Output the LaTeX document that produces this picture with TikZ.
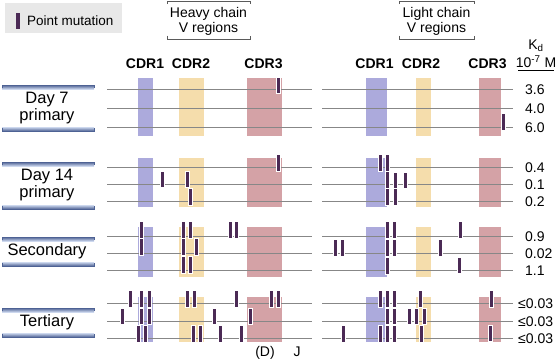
\documentclass[tikz,border=0pt]{standalone}
\usepackage{fontspec}
\setmainfont{Liberation Sans}
\definecolor{cdrA}{RGB}{172,170,220}
\definecolor{cdrB}{RGB}{245,221,172}
\definecolor{cdrC}{RGB}{212,162,166}
\definecolor{mut}{RGB}{75,42,85}
\definecolor{gline}{RGB}{135,135,135}
\definecolor{legbg}{RGB}{232,232,232}
\definecolor{bardark}{RGB}{78,98,148}
\definecolor{barlight}{RGB}{205,216,238}
\definecolor{brk}{RGB}{90,90,90}
\newcommand\mutbar[3]{\filldraw[mutstyle] ({#1-2.2},#2) rectangle ({#1+2.2},#3);}
\begin{document}
\begin{tikzpicture}[x=1pt,y=-1pt,
  mutstyle/.style={fill=mut,draw=white,line width=0.5pt},
  rowline/.style={draw=gline,line width=0.7pt},
  lbl/.style={font=\fontsize{16.5}{17}\selectfont,inner sep=0pt,align=center},
  hdr/.style={font=\fontsize{14}{15}\selectfont,inner sep=0pt,anchor=base},
  cdrlbl/.style={font=\fontsize{14}{15}\selectfont\bfseries,inner sep=0pt,anchor=base},
  kd/.style={font=\fontsize{14}{15}\selectfont,inner sep=0pt,anchor=base west},
  brack/.style={draw=brk,line width=0.8pt}]
\useasboundingbox (0,0) rectangle (556,359);
% legend
\fill[legbg] (5,3) rectangle (122,33);
\fill[mut] (16,13) rectangle (19.5,29);
\node[font=\fontsize{13.5}{14}\selectfont,inner sep=0pt,anchor=base west] (leg) at (27,25) {Point mutation};
% headers
\draw[brack] (167,4) -- (167,1) -- (250,1) -- (250,4);
\draw[brack] (167,35.5) -- (167,39) -- (250,39) -- (250,35.5);
\node[hdr] (hc1) at (208.5,17) {Heavy chain};
\node[hdr] (hc2) at (208.5,32) {V regions};
\draw[brack] (399,4) -- (399,1) -- (474,1) -- (474,4);
\draw[brack] (399,35.5) -- (399,39) -- (474,39) -- (474,35.5);
\node[hdr] (lc1) at (436.5,17) {Light chain};
\node[hdr] (lc2) at (436.5,32) {V regions};
\node[cdrlbl] (h1) at (145,68) {CDR1};
\node[cdrlbl] (h2) at (191,68) {CDR2};
\node[cdrlbl] (h3) at (263.5,68) {CDR3};
\node[cdrlbl] (l1) at (374.5,68) {CDR1};
\node[cdrlbl] (l2) at (421,68) {CDR2};
\node[cdrlbl] (l3) at (487.5,68) {CDR3};
\node[hdr] (kdh) at (536,49) {K\textsubscript{d}};
\node[hdr] (kdu) at (536,67.5) {10\textsuperscript{-7} M};
\draw[black,line width=0.6pt] (518,70.5) -- (554,70.5);
% CDR boxes
\foreach \ya/\yb in {78/136,158/207,227/277,297/342} {
  \fill[cdrA] (138,\ya) rectangle (153,\yb);
  \fill[cdrB] (179,\ya) rectangle (204,\yb);
  \fill[cdrC] (247,\ya) rectangle (282,\yb);
  \fill[cdrA] (366,\ya) rectangle (387,\yb);
  \fill[cdrB] (416,\ya) rectangle (431,\yb);
  \fill[cdrC] (479,\ya) rectangle (501,\yb);
}
% row lines
\foreach \y in {89,108,127,167,184,201,236,253,270,303,321,338} {
  \draw[rowline] (107,\y) -- (312,\y);
  \draw[rowline] (322,\y) -- (513,\y);
}
% row labels
\foreach \yt/\yb in {85/131,162/209,237/266,308/337} {
  \shade[top color=bardark,bottom color=barlight] (2,\yt) rectangle (94,\yt+4);
  \draw[bardark,line width=0.8pt] (2,\yt+3) -- (2,\yt) -- (94,\yt) -- (94,\yt+3);
  \shade[top color=barlight,bottom color=bardark] (2,\yb-4) rectangle (94,\yb);
  \draw[bardark,line width=0.8pt] (2,\yb-3) -- (2,\yb) -- (94,\yb) -- (94,\yb-3);
}
\node[lbl] (r1) at (47,108) {Day 7\\primary};
\node[lbl] (r2) at (47,185.5) {Day 14\\primary};
\node[lbl] (r3) at (47,251.5) {Secondary};
\node[lbl] (r4) at (47,322.5) {Tertiary};
% Kd values
\node[kd] (k1) at (525,94) {3.6};
\node[kd] (k2) at (525,113) {4.0};
\node[kd] (k3) at (525,132) {6.0};
\node[kd] (k4) at (525,172) {0.4};
\node[kd] (k5) at (525,189) {0.1};
\node[kd] (k6) at (525,206) {0.2};
\node[kd] (k7) at (525,241) {0.9};
\node[kd] (k8) at (525,258) {0.02};
\node[kd] (k9) at (525,275) {1.1};
\node[kd] (k10) at (518,308) {≤0.03};
\node[kd] (k11) at (518,326) {≤0.03};
\node[kd] (k12) at (518,343) {≤0.03};
\node[hdr] (dd) at (265,356) {(D)};
\node[hdr] (jj) at (297,356) {J};
% mutations: day 7
\mutbar{278.5}{77}{93}
\mutbar{503}{113}{130}
% day 14
\mutbar{162.5}{171}{187}
\mutbar{187}{171}{187}
\mutbar{190}{188}{205}
\mutbar{278.5}{154}{171}
\mutbar{380}{154}{171}
\mutbar{387.5}{154}{171}
\mutbar{387.5}{171}{188}
\mutbar{387.5}{188}{205}
\mutbar{395}{172}{188}
\mutbar{395}{188}{205}
\mutbar{405}{172}{188}
% secondary
\mutbar{141}{221}{238}
\mutbar{141}{238}{255}
\mutbar{183.5}{221}{238}
\mutbar{183.5}{238}{255}
\mutbar{183.5}{256}{273}
\mutbar{190}{221}{238}
\mutbar{190}{256}{273}
\mutbar{196.5}{238}{255}
\mutbar{230}{221}{238}
\mutbar{236.5}{221}{238}
\mutbar{335.5}{239}{256}
\mutbar{342.5}{239}{256}
\mutbar{387}{221}{238}
\mutbar{387}{239}{256}
\mutbar{387}{257}{274}
\mutbar{394}{221}{238}
\mutbar{394}{239}{256}
\mutbar{440}{239}{256}
\mutbar{460}{221}{238}
\mutbar{459}{257}{273}
% tertiary
\mutbar{130.5}{290}{307}
\mutbar{122.5}{308}{324}
\mutbar{141.5}{290}{307}
\mutbar{141.5}{308}{324}
\mutbar{149}{290}{307}
\mutbar{149}{308}{324}
\mutbar{138}{325}{342}
\mutbar{145}{325}{342}
\mutbar{187.5}{290}{307}
\mutbar{194.5}{290}{307}
\mutbar{193.5}{325}{342}
\mutbar{200}{325}{342}
\mutbar{214}{308}{324}
\mutbar{220}{325}{342}
\mutbar{236.5}{290}{307}
\mutbar{241}{325}{342}
\mutbar{250}{308}{324}
\mutbar{271.5}{290}{307}
\mutbar{278.5}{290}{307}
\mutbar{380}{290}{307}
\mutbar{387.5}{290}{307}
\mutbar{387.5}{308}{324}
\mutbar{387.5}{325}{342}
\mutbar{394.5}{290}{307}
\mutbar{394.5}{308}{324}
\mutbar{394.5}{325}{342}
\mutbar{380}{325}{342}
\mutbar{343.5}{325}{342}
\mutbar{409}{308}{324}
\mutbar{416}{308}{324}
\mutbar{420}{290}{307}
\mutbar{424}{308}{324}
\mutbar{421.5}{325}{342}
\mutbar{491}{290}{307}
\mutbar{490}{325}{341}
\end{tikzpicture}
\end{document}
